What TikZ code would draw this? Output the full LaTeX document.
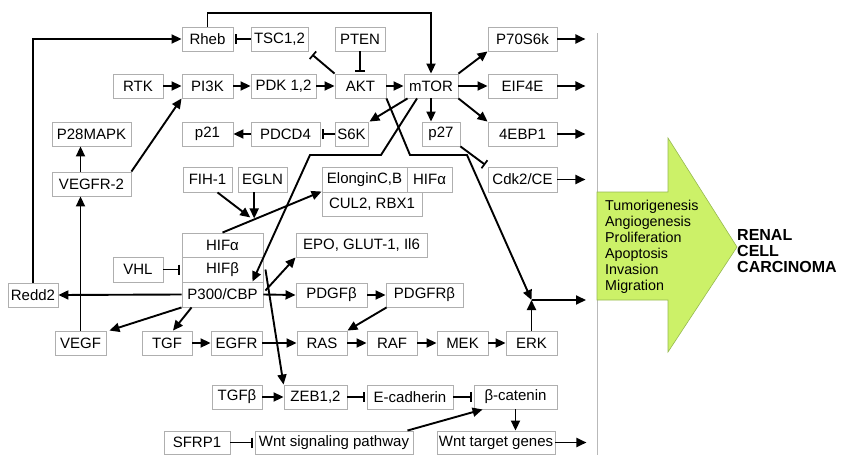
\documentclass[tikz,border=0pt]{standalone}
\usepackage{fontspec}
\setmainfont{Liberation Sans}
\usetikzlibrary{arrows.meta,calc}
\definecolor{boxgray}{RGB}{175,175,175}
\definecolor{arrowgreen}{RGB}{204,241,104}
\definecolor{arrowedge}{RGB}{150,185,80}
\definecolor{sepgray}{RGB}{185,185,185}
\begin{document}
\begin{tikzpicture}[x=1pt,y=-1pt,
  box/.style={draw=boxgray,line width=0.9pt,fill=white,inner sep=0pt,minimum height=24pt,font=\fontsize{15}{16}\selectfont},
  arr/.style={line width=1.9pt,-{Triangle[length=10pt,width=9pt]}},
  inh/.style={line width=1.9pt,-{Bar[width=10pt,line width=1.7pt]},shorten >=2pt},
  plain/.style={line width=1.9pt}
  ]
\useasboundingbox (0,0) rectangle (841,455);
% separator and big arrow
\draw[sepgray,line width=1pt] (597,33) -- (597,455);
\draw[fill=arrowgreen,draw=arrowedge,line width=0.6pt]
  (597,192) -- (668,192) -- (668,138) -- (737,247) -- (668,352) -- (668,300) -- (597,300) -- cycle;
\node[anchor=west,align=left,inner sep=0pt,font=\fontsize{14.3}{16}\selectfont] (effects) at (605,247)
  {Tumorigenesis\\Angiogenesis\\Proliferation\\Apoptosis\\Invasion\\Migration};
\node[anchor=west,align=left,inner sep=0pt,font=\fontsize{16}{16}\selectfont\bfseries] (rcc) at (737,251)
  {RENAL\\CELL\\CARCINOMA};
% boxes
\node[box,minimum width=51pt] (rheb) at (207.5,39) {Rheb};
\node[box,minimum width=57pt] (tsc) at (279.5,39) {TSC1,2};
\node[box,minimum width=50pt] (pten) at (360,39) {PTEN};
\node[box,minimum width=69pt] (p70) at (522.5,39) {P70S6k};
\node[box,minimum width=50pt] (rtk) at (138,86) {RTK};
\node[box,minimum width=51pt] (pi3k) at (207.5,86) {PI3K};
\node[box,minimum width=65pt] (pdk) at (283.5,86) {PDK 1,2};
\node[box,minimum width=51pt] (akt) at (360.5,86) {AKT};
\node[box,minimum width=54pt] (mtor) at (431,86) {mTOR};
\node[box,minimum width=69pt] (eif) at (522.5,86) {EIF4E};
\node[box,minimum width=79pt] (p28) at (91.5,134) {P28MAPK};
\node[box,minimum width=51pt] (p21) at (207.5,134) {p21};
\node[box,minimum width=69pt] (pdcd) at (285.5,134) {PDCD4};
\node[box,minimum width=33pt] (s6k) at (351.5,134) {S6K};
\node[box,minimum width=38pt] (p27) at (441,134) {p27};
\node[box,minimum width=69pt] (ebp) at (522.5,134) {4EBP1};
\node[box,minimum width=79pt] (vegfr2) at (91.5,184) {VEGFR-2};
\node[box,minimum width=49pt,minimum height=25pt] (fih) at (207.5,179.5) {FIH-1};
\node[box,minimum width=49pt,minimum height=25pt] (egln) at (262.5,179.5) {EGLN};
\node[box,minimum width=85pt,minimum height=25pt] (elong) at (364.5,179.5) {ElonginC,B};
\node[box,minimum width=45pt,minimum height=25pt] (hifa2) at (429.5,179.5) {HIFα};
\node[box,minimum width=100pt] (cul) at (372,204) {CUL2, RBX1};
\node[box,minimum width=69pt,minimum height=25pt] (cdk) at (522.5,179.5) {Cdk2/CE};
\node[box,minimum width=81pt] (hifa) at (222.5,245) {HIFα};
\node[box,minimum width=131pt] (epo) at (361.5,245) {EPO, GLUT-1, Il6};
\node[box,minimum width=50pt,minimum height=25pt] (vhl) at (138,269.5) {VHL};
\node[box,minimum width=81pt,minimum height=25pt] (hifb) at (222.5,269.5) {HIFβ};
\node[box,minimum width=81pt,minimum height=25pt] (p300) at (222.5,294.5) {P300/CBP};
\node[box,minimum width=50pt] (redd) at (33,295) {Redd2};
\node[box,minimum width=71pt] (pdgfb) at (331.5,295) {PDGFβ};
\node[box,minimum width=77pt] (pdgfrb) at (424.5,295) {PDGFRβ};
\node[box,minimum width=51pt] (vegf) at (80.5,343) {VEGF};
\node[box,minimum width=50pt] (tgf) at (167,343) {TGF};
\node[box,minimum width=51pt] (egfr) at (236.5,343) {EGFR};
\node[box,minimum width=50pt] (ras) at (322,343) {RAS};
\node[box,minimum width=50pt] (raf) at (392,343) {RAF};
\node[box,minimum width=51pt] (mek) at (462.5,343) {MEK};
\node[box,minimum width=51pt] (erk) at (531.5,343) {ERK};
\node[box,minimum width=50pt] (tgfb) at (237,397) {TGFβ};
\node[box,minimum width=63pt] (zeb) at (315.5,397) {ZEB1,2};
\node[box,minimum width=86pt] (ecad) at (410,397) {E-cadherin};
\node[box,minimum width=83pt] (bcat) at (515.5,397) {β-catenin};
\node[box,minimum width=66pt,minimum height=23pt] (sfrp) at (197,442.5) {SFRP1};
\node[box,minimum width=158pt,minimum height=23pt] (wntsig) at (334,442.5) {Wnt signaling pathway};
\node[box,minimum width=118pt,minimum height=23pt] (wnttg) at (496,442.5) {Wnt target genes};
% helper coordinates
\coordinate (mb1) at (381,155);
\coordinate (mb2) at (310,155);
\coordinate (ab1) at (410,155);
\coordinate (ab2) at (467,155);
\coordinate (erkj) at (531.5,300);
% connectors: top
\draw[arr] (redd.north) -- (redd.north |- rheb.west) -- (rheb.west);
\draw[inh] (tsc.west) -- (rheb.east);
\draw[arr] (rheb.north) -- ++(0,-14) -| (mtor.north);
\draw[inh] (pten.south) -- (pten.south |- akt.north);
\draw[inh,shorten >=5pt] (akt.north west) -- (tsc.south east);
\draw[arr] (rtk.east) -- (pi3k.west);
\draw[arr] (pi3k.east) -- (pdk.west);
\draw[arr] (pdk.east) -- (akt.west);
\draw[arr] (akt.east) -- (mtor.west);
\draw[arr] (mtor.north east) -- (p70.south west);
\draw[arr] (mtor.east) -- (eif.west);
\draw[arr] (mtor.south east) -- (ebp.north west);
\draw[arr] (mtor.south) -- (mtor.south |- p27.north);
\draw[arr] ($(mtor.south west)+(4,0)$) -- ($(s6k.north east)+(1,0)$);
\draw[inh] (s6k.west) -- (pdcd.east);
\draw[arr] (pdcd.west) -- (p21.east);
\draw[inh,shorten >=3pt] (p27.south east) -- (cdk.north west);
% crossing long paths
\draw[arr] ($(mtor.south)+(-14,0)$) -- (mb1) -- (mb2) -- ($(p300.north)+(30,0)$);
\draw[arr] (akt.south east) -- (ab1) -- (ab2) -- (erkj);
\draw[arr] (erk.north) -- (erkj);
% left side
\draw[arr] (vegfr2.north east) -- (pi3k.south west);
\draw[arr] (vegf.north |- vegfr2.north) -- (vegf.north |- p28.south);
\draw[arr] (vegf.north) -- (vegf.north |- vegfr2.south);
% HIF regulation
\draw[arr] (hifa.north) -- coordinate[pos=0.32] (hx) (cul.north west);
\draw[arr] ($(fih.south)+(10,0)$) -- ($(hx)+(-4,-2)$);
\draw[arr] (hx |- egln.south) -- ($(hx)+(0,-1)$);
\draw[inh] (vhl.east) -- (hifb.west);
\draw[arr] (p300.west) -- (redd.east);
\draw[arr] (p300.south west) -- ($(vegf.north east)+(3,0)$);
\draw[arr] ($(p300.south west)+(10,0)$) -- ($(tgf.north)+(6,0)$);
\draw[arr] (p300.east) -- (pdgfb.west);
\draw[arr] ($(p300.east)+(2,-4)$) -- (epo.south west);
\draw[arr] ($(hifb.east)+(2,0)$) -- (zeb.north west);
\draw[arr] (pdgfb.east) -- (pdgfrb.west);
\draw[arr] ($(pdgfrb.south west)+(1,0)$) -- (ras.north east);
% MAPK row
\draw[arr] (tgf.east) -- (egfr.west);
\draw[arr] (egfr.east) -- (ras.west);
\draw[arr] (ras.east) -- (raf.west);
\draw[arr] (raf.east) -- (mek.west);
\draw[arr] (mek.east) -- (erk.west);
% EMT / Wnt
\draw[arr] (tgfb.east) -- (zeb.west);
\draw[inh] (zeb.east) -- (ecad.west);
\draw[inh] (ecad.east) -- (bcat.west);
\draw[inh] (sfrp.east) -- (wntsig.west);
\draw[arr] ($(wntsig.north east)+(-6,0)$) -- ($(bcat.south west)+(9,0)$);
\draw[arr] (bcat.south) -- (bcat.south |- wnttg.north);
% outputs
\draw[arr] (p70.east) -- ++(28,0);
\draw[arr] (eif.east) -- ++(28,0);
\draw[arr] (ebp.east) -- ++(28,0);
\draw[arr] (cdk.east) -- ++(28,0);
\draw[arr] (erkj) -- (586,300);
\draw[arr] (wnttg.east) -- ++(31,0);
\end{tikzpicture}
\end{document}
